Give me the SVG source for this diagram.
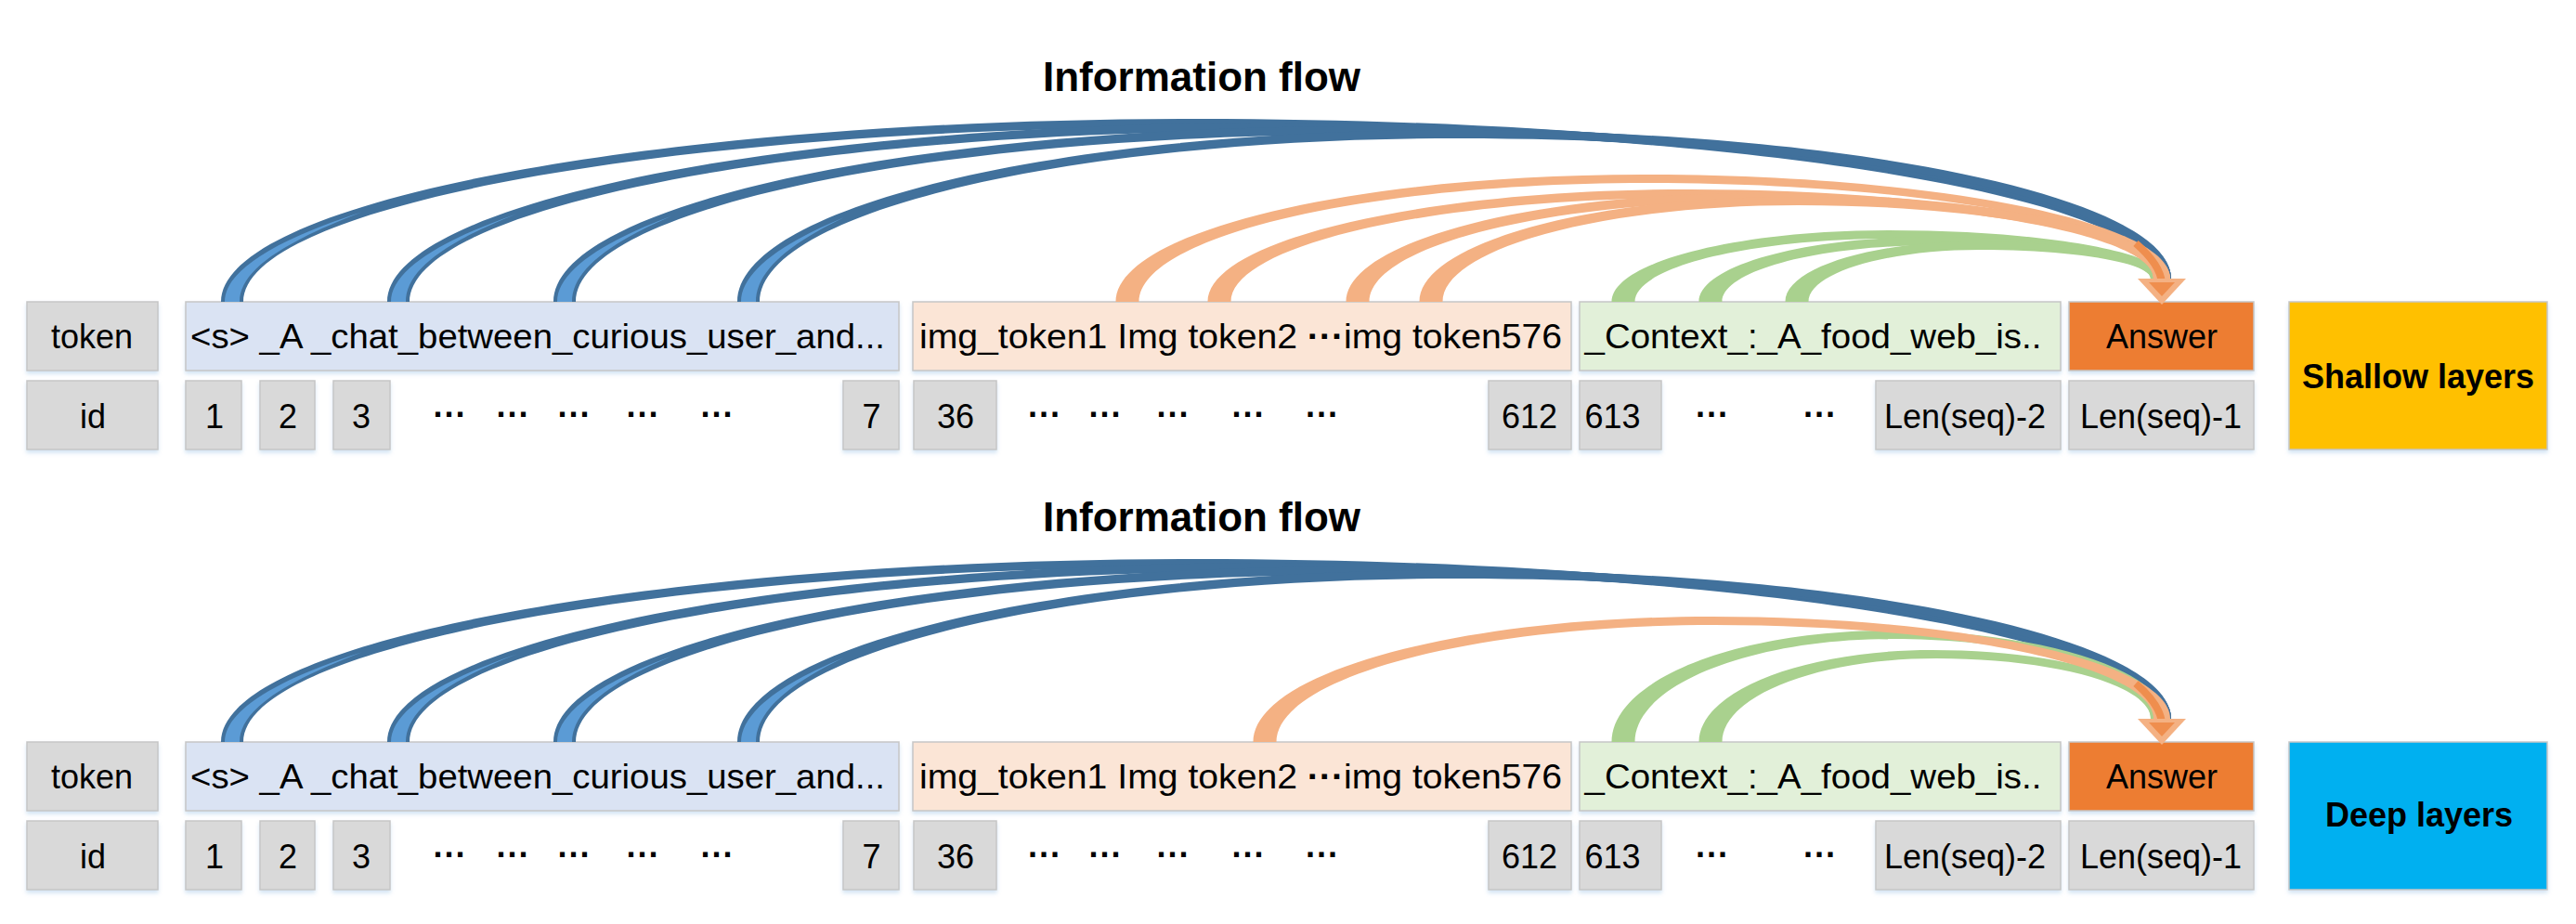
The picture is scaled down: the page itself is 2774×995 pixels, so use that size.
<svg xmlns="http://www.w3.org/2000/svg" xmlns:xlink="http://www.w3.org/1999/xlink" width="2774" height="995" viewBox="0 0 2774 995">
<defs>
<style>
.box{stroke:#c6c6c6;stroke-width:1.5;filter:url(#sh)}
.gray{fill:#d9d9d9}
.sys{fill:#dae3f3}
.img{fill:#fbe5d6}
.ctx{fill:#e2f0d9}
.ans{fill:#ed7d31}
.shallow{fill:#ffc000}
.deep{fill:#00b0f0}
.t{font-family:"Liberation Sans",Arial,sans-serif;font-size:36px;fill:#000}
.c{text-anchor:middle}
.b{font-weight:bold}
.title{font-family:"Liberation Sans",Arial,sans-serif;font-size:44px;font-weight:bold;fill:#000;text-anchor:middle}
.bd{fill:#41719c}
.bl{fill:#5b9bd5}
.or{fill:#f4b183}
.gr{fill:#a9d18e}
</style>
<filter id="sh" x="-10%" y="-20%" width="120%" height="150%">
<feDropShadow dx="0" dy="3" stdDeviation="2" flood-color="#9dc3e6" flood-opacity="0.45"/>
</filter>
<g id="blueArcs">
<path class="bd" d="M238,325 C238,216.2 708.1,128 1288,128 C1867.9,128 2338,205 2338,300 L2322,300 C2322,210 1860.9,137 1292,137 C723.1,137 262,221.2 262,325 Z"/>
<path class="bl" d="M242,325 C242,291.1 297.8,257.9 389.3,228.5 C302,262 258,292 258,325 Z"/>
<path class="bd" d="M417,325 C417,218.4 847,132 1377.5,132 C1908,132 2338,207.2 2338,300 L2322,300 C2322,212.2 1900.9,141 1381.5,141 C862.1,141 441,223.4 441,325 Z"/>
<path class="bl" d="M421,325 C421,291.8 472.7,259.3 556.3,230.5 C476.5,262 437,292 437,325 Z"/>
<path class="bd" d="M596,325 C596,220.6 986,136 1467,136 C1948,136 2338,209.4 2338,300 L2322,300 C2322,214.4 1941,145 1471,145 C1001,145 620,225.6 620,325 Z"/>
<path class="bl" d="M600,325 C600,292.5 647.7,260.7 723.4,232.5 C651.5,263.5 616,293 616,325 Z"/>
<path class="bd" d="M794,325 C794,222.8 1139.6,140 1566,140 C1992.4,140 2338,211.6 2338,300 L2322,300 C2322,216.6 1985.3,149 1570,149 C1154.7,149 818,227.8 818,325 Z"/>
<path class="bl" d="M798,325 C798,293.2 841.1,262.1 908.1,234.5 C845,265 814,294 814,325 Z"/>
</g>
<g id="head">
<path d="M2300,262 C2316,276 2327,290 2328,305" fill="none" stroke="#ef8e4e" stroke-width="8"/>
<polygon points="2302,300 2354,300 2328,328" fill="#f4b183"/>
<polygon points="2314,304 2342,304 2328,319" fill="#ef8e4e"/>
</g>
</defs>

<rect width="2774" height="995" fill="#ffffff"/>

<g id="panel-shallow">
<text id="title-shallow" class="title" x="1294" y="98">Information flow</text>
<g id="p1-token-label"><rect class="box gray" x="29" y="325" width="141" height="74"/><text class="t c" x="99" y="375">token</text></g>
<g id="p1-id-label"><rect class="box gray" x="29" y="410" width="141" height="74"/><text class="t c" x="100" y="461">id</text></g>
<g id="p1-sys"><rect class="box sys" x="200" y="325" width="768" height="74"/><text class="t" x="205" y="375" textLength="748" lengthAdjust="spacingAndGlyphs">&lt;s&gt; _A _chat_between_curious_user_and...</text></g>
<g id="p1-img"><rect class="box img" x="983" y="325" width="709" height="74"/><text class="t" x="990" y="375" textLength="692" lengthAdjust="spacingAndGlyphs">img_token1 Img token2 <tspan class="b">···</tspan>img token576</text></g>
<g id="p1-ctx"><rect class="box ctx" x="1701" y="325" width="518" height="74"/><text class="t" x="1706.5" y="375" textLength="492" lengthAdjust="spacingAndGlyphs">_Context_:_A_food_web_is..</text></g>
<g id="p1-answer"><rect class="box ans" x="2228" y="325" width="199" height="74"/><text class="t c" x="2328" y="375">Answer</text></g>
<g id="p1-id1"><rect class="box gray" x="200" y="410" width="60" height="74"/><text class="t c" x="231" y="461">1</text></g>
<g id="p1-id2"><rect class="box gray" x="280" y="410" width="59" height="74"/><text class="t c" x="310" y="461">2</text></g>
<g id="p1-id3"><rect class="box gray" x="359" y="410" width="61" height="74"/><text class="t c" x="389" y="461">3</text></g>
<g id="p1-dots-a"><text class="t c b" x="484.5" y="459">···</text><text class="t c b" x="552.5" y="459">···</text><text class="t c b" x="618.5" y="459">···</text><text class="t c b" x="692.5" y="459">···</text><text class="t c b" x="772.5" y="459">···</text></g>
<g id="p1-id7"><rect class="box gray" x="908" y="410" width="60" height="74"/><text class="t c" x="938.5" y="461">7</text></g>
<g id="p1-id36"><rect class="box gray" x="984" y="410" width="89" height="74"/><text class="t c" x="1029" y="461">36</text></g>
<g id="p1-dots-b"><text class="t c b" x="1125" y="459">···</text><text class="t c b" x="1190.5" y="459">···</text><text class="t c b" x="1263.5" y="459">···</text><text class="t c b" x="1344.5" y="459">···</text><text class="t c b" x="1424" y="459">···</text></g>
<g id="p1-id612"><rect class="box gray" x="1603" y="410" width="89" height="74"/><text class="t c" x="1647" y="461">612</text></g>
<g id="p1-id613"><rect class="box gray" x="1701" y="410" width="88" height="74"/><text class="t" x="1706.5" y="461">613</text></g>
<g id="p1-dots-c"><text class="t c b" x="1844" y="459">···</text><text class="t c b" x="1960" y="459">···</text></g>
<g id="p1-idlen2"><rect class="box gray" x="2020" y="410" width="199" height="74"/><text class="t c" x="2116" y="461">Len(seq)-2</text></g>
<g id="p1-idlen1"><rect class="box gray" x="2228" y="410" width="199" height="74"/><text class="t c" x="2327" y="461">Len(seq)-1</text></g>
<g id="p1-layer"><rect class="box shallow" x="2465" y="325" width="278" height="159"/><text class="t c b" x="2604" y="418">Shallow layers</text></g>
</g>

<g id="panel-deep" transform="translate(0,474)">
<text id="title-deep" class="title" x="1294" y="98">Information flow</text>
<g id="p2-token-label"><rect class="box gray" x="29" y="325" width="141" height="74"/><text class="t c" x="99" y="375">token</text></g>
<g id="p2-id-label"><rect class="box gray" x="29" y="410" width="141" height="74"/><text class="t c" x="100" y="461">id</text></g>
<g id="p2-sys"><rect class="box sys" x="200" y="325" width="768" height="74"/><text class="t" x="205" y="375" textLength="748" lengthAdjust="spacingAndGlyphs">&lt;s&gt; _A _chat_between_curious_user_and...</text></g>
<g id="p2-img"><rect class="box img" x="983" y="325" width="709" height="74"/><text class="t" x="990" y="375" textLength="692" lengthAdjust="spacingAndGlyphs">img_token1 Img token2 <tspan class="b">···</tspan>img token576</text></g>
<g id="p2-ctx"><rect class="box ctx" x="1701" y="325" width="518" height="74"/><text class="t" x="1706.5" y="375" textLength="492" lengthAdjust="spacingAndGlyphs">_Context_:_A_food_web_is..</text></g>
<g id="p2-answer"><rect class="box ans" x="2228" y="325" width="199" height="74"/><text class="t c" x="2328" y="375">Answer</text></g>
<g id="p2-id1"><rect class="box gray" x="200" y="410" width="60" height="74"/><text class="t c" x="231" y="461">1</text></g>
<g id="p2-id2"><rect class="box gray" x="280" y="410" width="59" height="74"/><text class="t c" x="310" y="461">2</text></g>
<g id="p2-id3"><rect class="box gray" x="359" y="410" width="61" height="74"/><text class="t c" x="389" y="461">3</text></g>
<g id="p2-dots-a"><text class="t c b" x="484.5" y="459">···</text><text class="t c b" x="552.5" y="459">···</text><text class="t c b" x="618.5" y="459">···</text><text class="t c b" x="692.5" y="459">···</text><text class="t c b" x="772.5" y="459">···</text></g>
<g id="p2-id7"><rect class="box gray" x="908" y="410" width="60" height="74"/><text class="t c" x="938.5" y="461">7</text></g>
<g id="p2-id36"><rect class="box gray" x="984" y="410" width="89" height="74"/><text class="t c" x="1029" y="461">36</text></g>
<g id="p2-dots-b"><text class="t c b" x="1125" y="459">···</text><text class="t c b" x="1190.5" y="459">···</text><text class="t c b" x="1263.5" y="459">···</text><text class="t c b" x="1344.5" y="459">···</text><text class="t c b" x="1424" y="459">···</text></g>
<g id="p2-id612"><rect class="box gray" x="1603" y="410" width="89" height="74"/><text class="t c" x="1647" y="461">612</text></g>
<g id="p2-id613"><rect class="box gray" x="1701" y="410" width="88" height="74"/><text class="t" x="1706.5" y="461">613</text></g>
<g id="p2-dots-c"><text class="t c b" x="1844" y="459">···</text><text class="t c b" x="1960" y="459">···</text></g>
<g id="p2-idlen2"><rect class="box gray" x="2020" y="410" width="199" height="74"/><text class="t c" x="2116" y="461">Len(seq)-2</text></g>
<g id="p2-idlen1"><rect class="box gray" x="2228" y="410" width="199" height="74"/><text class="t c" x="2327" y="461">Len(seq)-1</text></g>
<g id="p2-layer"><rect class="box deep" x="2465" y="325" width="278" height="159"/><text class="t c b" x="2605" y="416">Deep layers</text></g>
</g>

<g id="connectors">
<g id="flow-shallow">
<use xlink:href="#blueArcs" href="#blueArcs"/>
<path class="gr" d="M1735.5,325 C1735.5,282.5 1869.1,248 2033.8,248 C2198.5,248 2332,271.3 2332,300 L2316,300 C2316,276.3 2191.7,257 2038.3,257 C1884.9,257 1760.5,287.4 1760.5,325 Z"/>
<path class="gr" d="M1829.5,325 C1829.5,286.3 1942,255 2080.8,255 C2219.6,255 2332,275.1 2332,300 L2316,300 C2316,280.1 2212.7,264 2085.3,264 C1957.9,264 1854.5,291.3 1854.5,325 Z"/>
<path class="gr" d="M1922.5,325 C1922.5,289.1 2014.2,260 2127.3,260 C2240.4,260 2332,277.9 2332,300 L2316,300 C2316,282.9 2233.6,269 2131.8,269 C2030,269 1947.5,294.1 1947.5,325 Z"/>
<path class="or" d="M1201.5,325 C1201.5,249.3 1455.7,188 1769.3,188 C2082.9,188 2337,238.1 2337,300 L2319,300 C2319,243.1 2074.5,197 1772.8,197 C1471.1,197 1226.5,254.3 1226.5,325 Z"/>
<path class="or" d="M1300.5,325 C1300.5,258.2 1532.6,204 1818.8,204 C2105,204 2337,247 2337,300 L2319,300 C2319,252 2096.6,213 1822.3,213 C1547.9,213 1325.5,263.1 1325.5,325 Z"/>
<path class="or" d="M1449.5,325 C1449.5,260.4 1648.2,208 1893.3,208 C2138.4,208 2337,249.2 2337,300 L2319,300 C2319,254.2 2130,217 1896.8,217 C1663.6,217 1474.5,265.4 1474.5,325 Z"/>
<path class="or" d="M1528.5,325 C1528.5,262.6 1709.5,212 1932.8,212 C2156.1,212 2337,251.4 2337,300 L2319,300 C2319,256.4 2147.7,221 1936.3,221 C1724.9,221 1553.5,267.6 1553.5,325 Z"/>
<use xlink:href="#head" href="#head"/>
</g>
<g id="flow-deep" transform="translate(0,474)">
<use xlink:href="#blueArcs" href="#blueArcs"/>
<path class="gr" d="M1735.5,325 C1735.5,258.7 1869.1,205 2033.8,205 C2198.5,205 2332,247.5 2332,300 L2316,300 C2316,252.5 2191.7,214 2038.3,214 C1884.9,214 1760.5,263.7 1760.5,325 Z"/>
<path class="gr" d="M1829.5,325 C1829.5,270.3 1942,226 2080.8,226 C2219.6,226 2332,259.1 2332,300 L2316,300 C2316,264.1 2212.7,235 2085.3,235 C1957.9,235 1854.5,275.3 1854.5,325 Z"/>
<path class="or" d="M1349.5,325 C1349.5,250.4 1570.6,190 1843.3,190 C2116,190 2337,239.2 2337,300 L2319,300 C2319,244.2 2107.6,199 1846.8,199 C1586,199 1374.5,255.4 1374.5,325 Z"/>
<use xlink:href="#head" href="#head"/>
</g>
</g>
</svg>
